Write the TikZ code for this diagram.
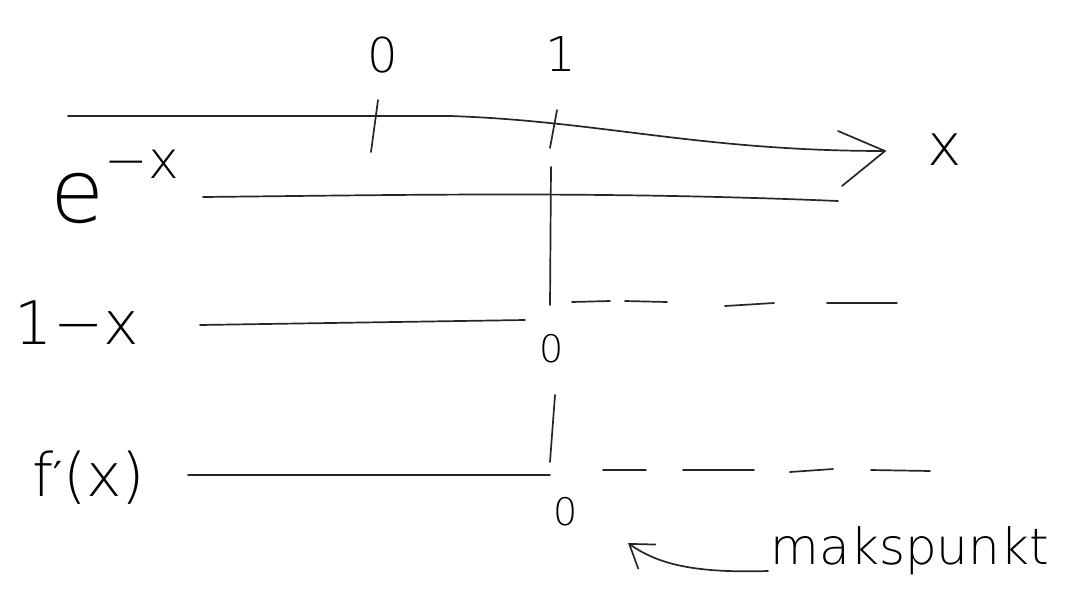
\documentclass[tikz,border=0pt]{standalone}
\usepackage{fontspec}
\setmainfont{DejaVu Sans ExtraLight}
\newfontfamily\dvsans{DejaVu Sans}
\usetikzlibrary{arrows.meta}
\begin{document}
\begin{tikzpicture}[x=1pt,y=-1pt,line width=1.7pt,line cap=round,line join=round,
  lab/.style={inner sep=0pt,font=\fontsize{#1}{#1}\selectfont},
  lab/.default=50,
  solid line/.style={draw=black!85}]
\useasboundingbox (0,0) rectangle (1084,595);
% axis
\coordinate (a0) at (68,116);
\coordinate (a1) at (450,116);
\coordinate (a2) at (885,151);
\coordinate (h1) at (838,131);
\coordinate (h2) at (842,186);
\draw[solid line] (a0) -- (a1) .. controls (600,121) and (700,151) .. (a2);
\draw[solid line] (h1) -- (a2) -- (h2);
\node[lab=58] (lx) at (945,150) {x};
% ticks and labels
\coordinate (t0a) at (378,100); \coordinate (t0b) at (371,152);
\coordinate (t1a) at (557,110); \coordinate (t1b) at (550,148);
\draw[solid line] (t0a) -- (t0b);
\draw[solid line] (t1a) -- (t1b);
\node[lab=48] (l0) at (383,55) {0};
\node[lab=48] (l1) at (561,54) {1};
% row labels
\node[lab=88,anchor=base west] (le) at (50,222) {e\raisebox{44pt}{\fontsize{52}{52}\selectfont −x}};
\node[lab=60,anchor=base west] (l1x) at (14,344) {1−x};
\node[lab=60,anchor=base west] (lf) at (32,496) {f{\dvsans\fontsize{40}{40}\selectfont\raisebox{6pt}{′}}(x)};
% vertical divider
\coordinate (v1) at (551,167); \coordinate (v2) at (550,305);
\coordinate (v3) at (555,395); \coordinate (v4) at (550,462);
\draw[solid line] (v1) -- (v2);
\draw[solid line] (v3) -- (v4);
% e^{-x} row
\coordinate (e0) at (203,197); \coordinate (e1) at (838,201);
\draw[solid line] (e0) .. controls (400,195) and (600,191) .. (e1);
% 1-x row
\coordinate (r0) at (200,325); \coordinate (r1) at (525,320);
\draw[solid line] (r0) -- (r1);
\coordinate (ra1) at (572,302); \coordinate (rb1) at (610,301);
\coordinate (ra2) at (625,301); \coordinate (rb2) at (667,302);
\coordinate (ra3) at (725,306); \coordinate (rb3) at (774,303);
\coordinate (ra4) at (827,303); \coordinate (rb4) at (897,303);
\foreach \i in {1,...,4} \draw[solid line] (ra\i) -- (rb\i);
\node[lab=38] (z1) at (552,349) {0};
% f'(x) row
\coordinate (f0) at (188,475); \coordinate (f1) at (550,475);
\draw[solid line] (f0) -- (f1);
\coordinate (fa1) at (603,470); \coordinate (fb1) at (646,470);
\coordinate (fa2) at (683,470); \coordinate (fb2) at (754,470);
\coordinate (fa3) at (790,472); \coordinate (fb3) at (833,469);
\coordinate (fa4) at (871,470); \coordinate (fb4) at (930,471);
\foreach \i in {1,...,4} \draw[solid line] (fa\i) -- (fb\i);
\node[lab=38] (z2) at (566,512) {0};
% annotation
\node[lab=50,anchor=base west] (mk) at (770,564) {makspunkt};
\coordinate (m0) at (768,571);
\coordinate (m1) at (628,543);
\draw[solid line,-{Straight Barb[length=22pt,width=30pt]}] (m0) .. controls (700,573) and (660,566) .. (m1);
\end{tikzpicture}
\end{document}
